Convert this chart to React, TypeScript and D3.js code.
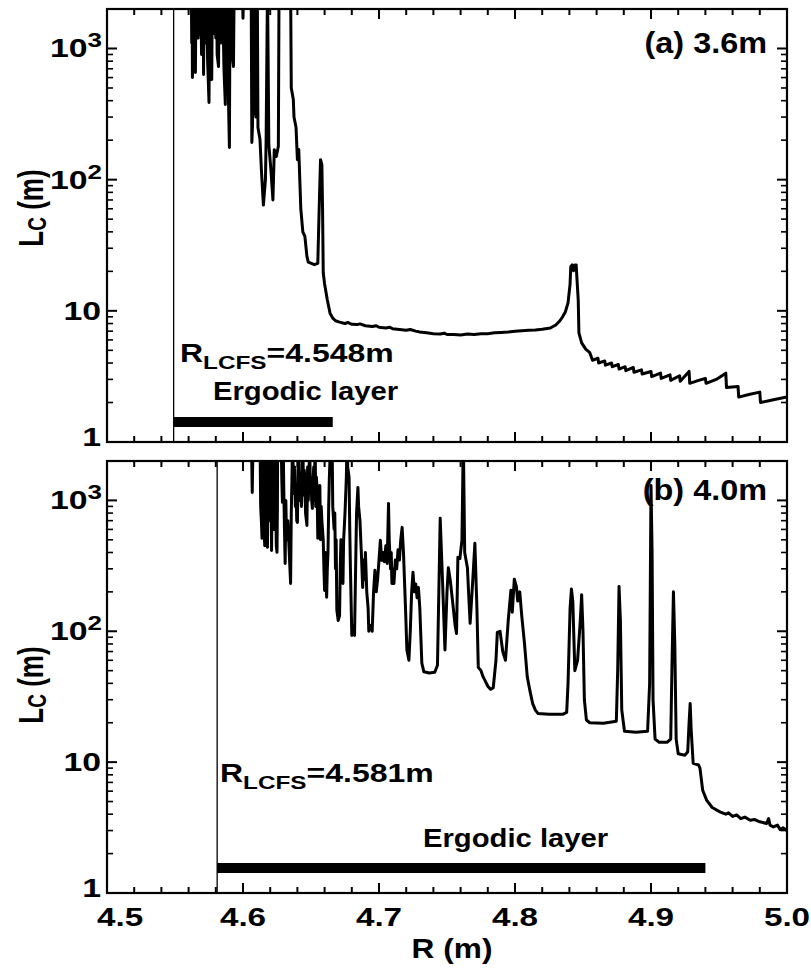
import React from "react";
import * as d3 from "d3";

// ---------- data ----------
const xTicks = [4.5, 4.6, 4.7, 4.8, 4.9, 5.0];
const xTickLabels = ["4.5", "4.6", "4.7", "4.8", "4.9", "5.0"];
const yTicks = [1, 10, 100, 1000];
const yTickBase = ["1", "10", "10", "10"];
const yTickSup = ["", "", "2", "3"];
const panelLabels = ["(a) 3.6m", "(b) 4.0m"];
const lcfsR = [4.549, 4.581];
const lcfsText = ["=4.548m", "=4.581m"];
const ergodicStart = [4.549, 4.581];
const ergodicEnd = [4.666, 4.94];
const ergodicLevel = [1.42, 1.55];

const seriesA: [number, number][] = [
  [4.562, 3000], [4.5623, 1100], [4.5626, 3000], [4.5628, 600], [4.563, 729], [4.5633, 3000], [4.5637, 1300],
  [4.564, 900], [4.5645, 1500], [4.565, 656], [4.5655, 3000], [4.566, 1400], [4.5663, 3000], [4.567, 1200],
  [4.5675, 1600], [4.568, 3000], [4.5685, 1300], [4.569, 3000], [4.5695, 900], [4.57, 3000], [4.5703, 1200],
  [4.5707, 3000], [4.571, 634], [4.5715, 3000], [4.572, 1100], [4.5725, 1400], [4.573, 3000], [4.5735, 1500],
  [4.574, 800], [4.575, 387], [4.5755, 3000], [4.576, 1200], [4.5765, 1000], [4.577, 580], [4.5775, 3000],
  [4.578, 1400], [4.5785, 3000], [4.579, 1300], [4.5795, 3000], [4.58, 1200], [4.5805, 3000], [4.581, 900],
  [4.582, 729], [4.5825, 3000], [4.583, 1300], [4.5835, 3000], [4.584, 1100], [4.585, 3000], [4.5855, 1400],
  [4.586, 700], [4.587, 374], [4.5875, 3000], [4.588, 1200], [4.5885, 3000], [4.589, 600], [4.59, 176],
  [4.5905, 3000], [4.591, 1500], [4.5915, 3000], [4.592, 900], [4.593, 729], [4.5935, 3000],
  [4.5995, 3000], [4.6, 1700], [4.6005, 3000],
  [4.606, 3000], [4.6065, 192], [4.607, 260], [4.6075, 3000], [4.608, 3000], [4.6085, 355], [4.6095, 300],
  [4.6105, 3000], [4.611, 250], [4.6125, 202], [4.6135, 120], [4.615, 64], [4.6165, 100], [4.617, 200],
  [4.618, 3000], [4.619, 185], [4.6205, 120], [4.622, 70], [4.623, 169], [4.6245, 150], [4.626, 180],
  [4.6265, 3000], [4.635, 3000], [4.6355, 500], [4.637, 408], [4.6375, 300], [4.639, 250], [4.64, 142],
  [4.641, 170], [4.6425, 60], [4.644, 40], [4.6455, 37], [4.647, 26], [4.648, 23.5], [4.6525, 22.5],
  [4.655, 23], [4.656, 60], [4.657, 142], [4.658, 130], [4.6585, 60], [4.659, 19.5], [4.66, 16],
  [4.662, 12.1], [4.664, 9.6], [4.666, 8.8], [4.668, 8.4], [4.671, 8.2], [4.675, 8.0], [4.677, 8.15],
  [4.68, 7.9], [4.684, 7.85], [4.686, 7.95], [4.69, 7.7], [4.695, 7.6], [4.698, 7.7], [4.7, 7.5],
  [4.705, 7.4], [4.708, 7.5], [4.71, 7.3], [4.715, 7.2], [4.72, 7.1], [4.723, 7.2], [4.727, 7.0],
  [4.73, 6.9], [4.735, 6.8], [4.74, 6.7], [4.745, 6.65], [4.748, 6.75], [4.75, 6.6], [4.755, 6.6],
  [4.76, 6.55], [4.765, 6.65], [4.77, 6.6], [4.775, 6.7], [4.78, 6.7], [4.785, 6.8], [4.79, 6.85],
  [4.795, 6.9], [4.8, 7.0], [4.805, 7.05], [4.81, 7.1], [4.815, 7.15], [4.82, 7.25], [4.826, 7.4],
  [4.83, 7.8], [4.833, 8.4], [4.835, 9.0], [4.837, 9.8], [4.839, 11.5], [4.8405, 16], [4.841, 21.7],
  [4.842, 22.4], [4.8425, 20.6], [4.843, 20.2], [4.8435, 21], [4.844, 22.4], [4.845, 22.4], [4.8455, 18],
  [4.8465, 12], [4.847, 6.8], [4.849, 5.7], [4.852, 5.1], [4.855, 4.8], [4.857, 4.2],
  [4.861, 4.35], [4.8615, 4.0], [4.866, 4.15], [4.8665, 3.85], [4.871, 4.0], [4.8715, 3.75], [4.876, 3.9],
  [4.8765, 3.6], [4.881, 3.75], [4.8815, 3.5], [4.887, 3.7], [4.8875, 3.4], [4.893, 3.55], [4.8935, 3.3],
  [4.9, 3.45], [4.9005, 3.15], [4.907, 3.35], [4.9075, 3.05], [4.914, 3.25], [4.9145, 2.95], [4.921, 3.2],
  [4.9215, 2.9], [4.928, 3.45], [4.9285, 2.8], [4.935, 2.95], [4.94, 3.05], [4.9405, 2.8], [4.948, 3.0],
  [4.955, 3.35], [4.9555, 2.6], [4.964, 2.65], [4.9645, 2.2], [4.972, 2.3], [4.98, 2.4], [4.9805, 2.0],
  [4.99, 2.1], [5.0, 2.2],
];

const seriesB: [number, number][] = [
  [4.6062, 3000], [4.6068, 1150], [4.6074, 3000],
  [4.6125, 3000], [4.613, 900], [4.6135, 700], [4.614, 513], [4.6143, 1200], [4.6145, 3000], [4.615, 1100],
  [4.6155, 600], [4.616, 450], [4.6163, 1300], [4.6165, 3000], [4.617, 800], [4.6175, 500], [4.618, 438],
  [4.6183, 1000], [4.6185, 3000], [4.619, 1200], [4.6195, 700], [4.62, 1500], [4.6205, 3000], [4.621, 415],
  [4.6213, 900], [4.6215, 3000], [4.622, 1300], [4.6225, 800], [4.623, 600], [4.6235, 3000], [4.624, 1000],
  [4.6245, 450], [4.625, 401], [4.6253, 900], [4.6255, 3000], [4.627, 2500], [4.628, 3000], [4.6285, 1500],
  [4.629, 966], [4.6295, 3000], [4.63, 1200], [4.6305, 600], [4.631, 330], [4.6315, 1000], [4.632, 500],
  [4.633, 700], [4.634, 400], [4.635, 232], [4.6355, 800], [4.636, 1500], [4.6365, 3000], [4.637, 1500],
  [4.6375, 1130], [4.638, 1800], [4.6385, 900], [4.639, 1300], [4.6395, 700], [4.64, 679], [4.6405, 1500],
  [4.641, 3000], [4.6415, 1200], [4.642, 1000], [4.6425, 1600], [4.643, 900], [4.6435, 1400], [4.644, 3000],
  [4.6445, 1100], [4.645, 1700], [4.6455, 1500], [4.646, 800], [4.647, 644], [4.6475, 1800], [4.648, 1000],
  [4.6485, 1500], [4.649, 3000], [4.6495, 1200], [4.65, 1500], [4.6505, 1000], [4.651, 869], [4.6515, 1400],
  [4.652, 1800], [4.6525, 1000], [4.653, 3000], [4.6535, 900], [4.654, 1500], [4.6545, 1200], [4.655, 513],
  [4.6555, 1200], [4.656, 900], [4.6565, 1300], [4.657, 500], [4.6575, 900], [4.658, 700], [4.659, 500],
  [4.6595, 300], [4.66, 205], [4.6607, 400], [4.6615, 182], [4.662, 300], [4.6625, 400], [4.663, 900],
  [4.6635, 1500], [4.6645, 3000], [4.6655, 3000], [4.666, 900], [4.667, 600], [4.6675, 800], [4.668, 300],
  [4.6685, 500], [4.669, 145], [4.67, 121], [4.671, 132], [4.6715, 300], [4.672, 500], [4.673, 300],
  [4.6735, 232], [4.674, 500], [4.675, 800], [4.676, 1500], [4.6765, 3000], [4.677, 1800], [4.678, 1500],
  [4.6785, 600], [4.679, 300], [4.68, 93], [4.681, 110], [4.682, 93], [4.683, 400], [4.6835, 800],
  [4.6845, 1257], [4.685, 900], [4.686, 700], [4.687, 400], [4.688, 216], [4.6885, 350], [4.6895, 250],
  [4.69, 400], [4.691, 200], [4.692, 150], [4.6925, 100], [4.694, 111], [4.695, 100], [4.696, 200],
  [4.697, 292], [4.698, 200], [4.699, 250], [4.7, 350], [4.701, 495], [4.702, 348], [4.703, 400],
  [4.704, 340], [4.705, 450], [4.706, 330], [4.707, 948], [4.7075, 500], [4.7085, 300], [4.709, 400],
  [4.7095, 232], [4.71, 300], [4.711, 232], [4.712, 350], [4.713, 300], [4.714, 420], [4.715, 350],
  [4.716, 500], [4.717, 622], [4.718, 400], [4.7195, 150], [4.7205, 72], [4.722, 60], [4.723, 100],
  [4.724, 200], [4.725, 282], [4.726, 200], [4.727, 230], [4.728, 180], [4.729, 216], [4.73, 150],
  [4.7315, 57], [4.733, 49], [4.737, 48], [4.741, 48.6], [4.743, 55], [4.745, 729], [4.747, 200],
  [4.7485, 72], [4.75, 200], [4.751, 306], [4.7525, 240], [4.754, 173], [4.756, 110], [4.757, 96],
  [4.758, 367], [4.7595, 360], [4.761, 500], [4.762, 3000], [4.763, 400], [4.765, 306], [4.767, 115],
  [4.769, 250], [4.7705, 470], [4.772, 150], [4.773, 53], [4.775, 50], [4.7765, 45], [4.778, 42],
  [4.78, 38], [4.782, 36], [4.784, 37], [4.786, 60], [4.787, 98], [4.789, 100], [4.791, 70], [4.793, 60],
  [4.795, 120], [4.797, 206], [4.798, 140], [4.7995, 250], [4.801, 220], [4.802, 170], [4.8035, 200],
  [4.805, 130], [4.807, 80], [4.809, 45], [4.811, 35], [4.813, 28], [4.815, 25], [4.817, 23.5],
  [4.825, 23.2], [4.835, 23.2], [4.838, 24], [4.839, 40], [4.8405, 150], [4.8415, 210], [4.8425, 170],
  [4.844, 50], [4.846, 60], [4.848, 120], [4.849, 190], [4.85, 100], [4.851, 30], [4.8525, 21],
  [4.855, 20], [4.865, 19.8], [4.8745, 20.5], [4.8755, 50], [4.8765, 220], [4.8775, 120], [4.8785, 25],
  [4.8805, 17.2], [4.889, 16.9], [4.8975, 17.2], [4.899, 40], [4.9, 1300], [4.9008, 400], [4.9015, 30],
  [4.903, 15], [4.906, 14.2], [4.912, 14.2], [4.9145, 15], [4.9155, 60], [4.9165, 200], [4.9175, 80],
  [4.9185, 15], [4.92, 11.6], [4.925, 11.3], [4.927, 12], [4.928, 20], [4.9288, 28], [4.9295, 18],
  [4.931, 9.8], [4.935, 9.5], [4.936, 9.0], [4.938, 6.1], [4.941, 5.1], [4.945, 4.5], [4.951, 4.15],
  [4.955, 4.0], [4.957, 4.1], [4.96, 3.85], [4.963, 3.95], [4.966, 3.7], [4.969, 3.8], [4.973, 3.6],
  [4.976, 3.65], [4.98, 3.5], [4.985, 3.4], [4.9865, 3.7], [4.9875, 3.3], [4.99, 3.2], [4.993, 3.3],
  [4.995, 3.05], [4.997, 3.15], [5.0, 3.0],
];

const seriesList = [seriesA, seriesB];

// ---------- layout ----------
const W = 811;
const H = 970;
const PL = 107;
const PR = 787;
const panelTop = [9, 461];
const panelBottom = [442, 893];
const titleY = [208, 685];
const lcfsLabelPos = [[180, 362], [220, 782]];
const ergodicLabelPos = [[213, 400], [423, 847]];
const panelLabelY = [53, 500];
const FONT = "'Liberation Sans', Arial, Helvetica, sans-serif";

export default function App() {
  const x = d3.scaleLinear().domain([4.5, 5.0]).range([PL, PR]);
  const minorX = d3.range(0, 26).map((i) => 4.5 + i * 0.02).filter((_, i) => i % 5 !== 0);
  const minorY: number[] = [];
  [1, 10, 100, 1000].forEach((d) => {
    for (let k = 2; k <= 9; k++) if (d * k <= 2000) minorY.push(d * k);
  });

  return (
    <svg
      width={W}
      height={H}
      style={{ position: "absolute", left: 0, top: 0, background: "#fff" }}
      fontFamily={FONT}
      fontWeight="bold"
    >
      <rect x={0} y={0} width={W} height={H} fill="#fff" />
      {[0, 1].map((p) => {
        const top = panelTop[p];
        const bottom = panelBottom[p];
        const y = d3.scaleLog().domain([1, 2000]).range([bottom, top]);
        const line = d3
          .line<[number, number]>()
          .x((d) => x(d[0]))
          .y((d) => y(d[1]));
        const clipId = `clip${p}`;
        return (
          <g key={p}>
            <defs>
              <clipPath id={clipId}>
                <rect x={PL} y={top} width={PR - PL} height={bottom - top} />
              </clipPath>
            </defs>
            <line x1={x(lcfsR[p])} x2={x(lcfsR[p])} y1={top} y2={bottom} stroke="#000" strokeWidth={1.3} />
            <line
              x1={x(ergodicStart[p])}
              x2={x(ergodicEnd[p])}
              y1={y(ergodicLevel[p])}
              y2={y(ergodicLevel[p])}
              stroke="#000"
              strokeWidth={10}
            />
            <path
              d={line(seriesList[p]) || ""}
              fill="none"
              stroke="#000"
              strokeWidth={3}
              strokeLinejoin="round"
              clipPath={`url(#${clipId})`}
            />
            {xTicks.map((t) => (
              <g key={"xt" + t}>
                <line x1={x(t)} x2={x(t)} y1={bottom} y2={bottom - 10} stroke="#000" strokeWidth={2} />
                <line x1={x(t)} x2={x(t)} y1={top} y2={top + 10} stroke="#000" strokeWidth={2} />
              </g>
            ))}
            {minorX.map((t) => (
              <g key={"xm" + t}>
                <line x1={x(t)} x2={x(t)} y1={bottom} y2={bottom - 6} stroke="#000" strokeWidth={2} />
                <line x1={x(t)} x2={x(t)} y1={top} y2={top + 6} stroke="#000" strokeWidth={2} />
              </g>
            ))}
            {yTicks.map((t) => (
              <g key={"yt" + t}>
                <line x1={PL} x2={PL + 10} y1={y(t)} y2={y(t)} stroke="#000" strokeWidth={2} />
                <line x1={PR} x2={PR - 10} y1={y(t)} y2={y(t)} stroke="#000" strokeWidth={2} />
              </g>
            ))}
            {minorY.map((t) => (
              <g key={"ym" + t}>
                <line x1={PL} x2={PL + 6} y1={y(t)} y2={y(t)} stroke="#000" strokeWidth={1.6} />
                <line x1={PR} x2={PR - 6} y1={y(t)} y2={y(t)} stroke="#000" strokeWidth={1.6} />
              </g>
            ))}
            <rect x={PL} y={top} width={PR - PL} height={bottom - top} fill="none" stroke="#000" strokeWidth={2.2} />
            {yTicks.map((t, i) => (
              <text
                key={"yl" + t}
                transform={`translate(${yTickSup[i] ? 102 : 101},${y(t) + (t === 1 ? 4 : 9)}) scale(1.3,1)`}
                textAnchor="end"
                fontSize={26}
              >
                {yTickBase[i]}
                {yTickSup[i] ? (
                  <tspan fontSize={20} dy={-10}>
                    {yTickSup[i]}
                  </tspan>
                ) : null}
              </text>
            ))}
            <text
              transform={`translate(43,${titleY[p]}) scale(1.35,1) rotate(-90)`}
              textAnchor="middle"
              fontSize={26}
            >
              L
              <tspan fontSize={19} dy={2}>
                C
              </tspan>
              <tspan fontSize={26} dy={-2}>
                {" (m)"}
              </tspan>
            </text>
            <text
              transform={`translate(767,${panelLabelY[p]}) scale(1.08,1)`}
              textAnchor="end"
              fontSize={30}
            >
              {panelLabels[p]}
            </text>
            <text
              transform={`translate(${lcfsLabelPos[p][0]},${lcfsLabelPos[p][1]}) scale(1.28,1)`}
              fontSize={25}
            >
              R
              <tspan fontSize={19} dy={7}>
                LCFS
              </tspan>
              <tspan fontSize={25} dy={-7}>
                {lcfsText[p]}
              </tspan>
            </text>
            <text
              transform={`translate(${ergodicLabelPos[p][0]},${ergodicLabelPos[p][1]}) scale(1.17,1)`}
              fontSize={25}
            >
              Ergodic layer
            </text>
          </g>
        );
      })}
      {xTicks.map((t, i) => (
        <text
          key={"xl" + t}
          transform={`translate(${i === 0 ? 97 : x(t)},926) scale(1.33,1)`}
          textAnchor={i === 0 ? "start" : "middle"}
          fontSize={25}
        >
          {xTickLabels[i]}
        </text>
      ))}
      <text transform={`translate(452,958) scale(1.13,1)`} textAnchor="middle" fontSize={28}>
        R (m)
      </text>
    </svg>
  );
}
